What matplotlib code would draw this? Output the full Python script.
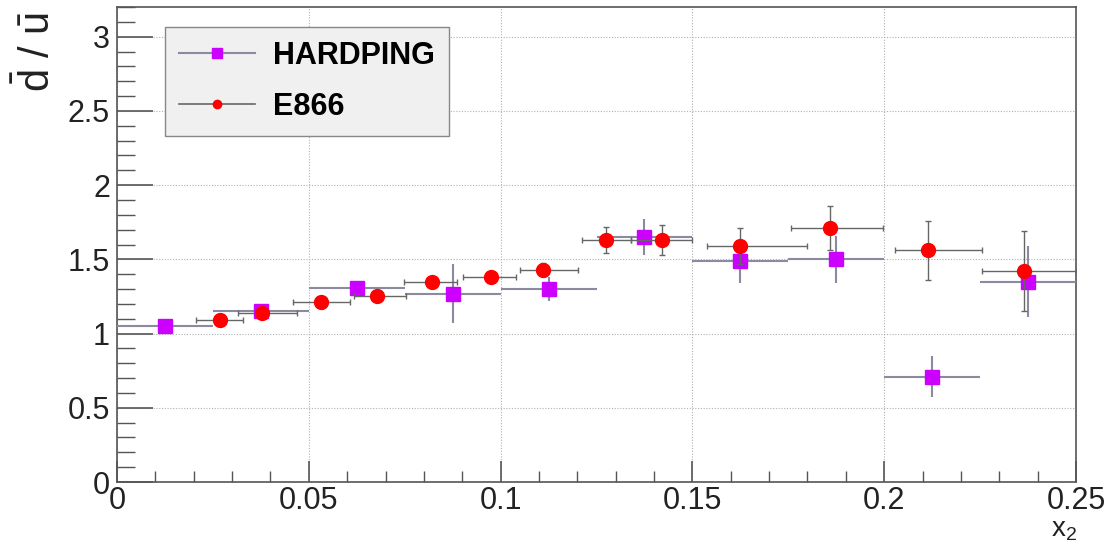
import numpy as np
import matplotlib
matplotlib.use("Agg")
import matplotlib.pyplot as plt
from matplotlib.ticker import MultipleLocator
from matplotlib.lines import Line2D

plt.rcParams['font.family'] = ['Liberation Sans', 'DejaVu Sans']
plt.rcParams['mathtext.fontset'] = 'custom'
plt.rcParams['mathtext.rm'] = 'Liberation Sans'
plt.rcParams['mathtext.it'] = 'Liberation Sans'

# HARDPING (bin centres, half-width 0.0125)
hp_x = [0.0125, 0.0375, 0.0625, 0.0875, 0.1125, 0.1375, 0.1625, 0.1875, 0.2125, 0.2375]
hp_y = [1.05, 1.15, 1.31, 1.27, 1.30, 1.65, 1.49, 1.50, 0.71, 1.35]
hp_yerr = [0.02, 0.03, 0.04, 0.20, 0.08, 0.12, 0.15, 0.16, 0.14, 0.24]
hp_xerr = [0.0125] * 10

# E866
e_x = [0.0269, 0.0379, 0.0531, 0.0677, 0.0820, 0.0975, 0.1111, 0.1275, 0.1420, 0.1624, 0.1858, 0.2115, 0.2365]
e_y = [1.09, 1.14, 1.21, 1.25, 1.35, 1.38, 1.43, 1.63, 1.63, 1.59, 1.71, 1.56, 1.42]
e_yerr = [0.04, 0.03, 0.03, 0.03, 0.03, 0.03, 0.045, 0.09, 0.10, 0.12, 0.15, 0.20, 0.27]
e_xlo = [0.0206, 0.0315, 0.0458, 0.0618, 0.0747, 0.0901, 0.1050, 0.1213, 0.1340, 0.1537, 0.1758, 0.2028, 0.2254]
e_xhi = [0.0328, 0.0468, 0.0607, 0.0753, 0.0886, 0.1040, 0.1202, 0.1340, 0.1498, 0.1798, 0.1996, 0.2254, 0.2500]

e_xerr = [np.array(e_x) - np.array(e_xlo), np.array(e_xhi) - np.array(e_x)]

fig = plt.figure(figsize=(11.07, 5.42), dpi=100)
ax = fig.add_axes([0.1057, 0.1107, 0.8663, 0.8763])

ax.grid(True, which='major', color='#b0b0b0', linestyle=(0, (1, 1.5)), linewidth=0.8)
ax.set_axisbelow(True)

ax.errorbar(hp_x, hp_y, xerr=hp_xerr, yerr=hp_yerr, fmt='s', color='#cc00ff', ms=10,
            ecolor='#8a8aa0', elinewidth=1.5, capsize=0, zorder=3)
ax.errorbar(e_x, e_y, xerr=e_xerr, yerr=e_yerr, fmt='o', color='#ff0000', ms=10,
            ecolor='#666666', elinewidth=1.0, capsize=2, zorder=4)

ax.set_xlim(0, 0.25)
ax.set_ylim(0, 3.2)
ax.xaxis.set_minor_locator(MultipleLocator(0.01))
ax.yaxis.set_minor_locator(MultipleLocator(0.1))
ax.set_xticks([0, 0.05, 0.1, 0.15, 0.2, 0.25])
ax.set_xticklabels(['0', '0.05', '0.1', '0.15', '0.2', '0.25'])
ax.set_yticks([0, 0.5, 1, 1.5, 2, 2.5, 3])
ax.set_yticklabels(['0', '0.5', '1', '1.5', '2', '2.5', '3'])

ax.tick_params(which='both', direction='in', labelsize=22, colors='#555555', labelcolor='#222222')
ax.tick_params(axis='y', which='major', length=26, width=1.2, pad=5)
ax.tick_params(axis='y', which='minor', length=13, width=1.0)
ax.tick_params(axis='x', which='major', length=15, width=1.2, pad=3)
ax.tick_params(axis='x', which='minor', length=8, width=1.0)
for s in ax.spines.values():
    s.set_color('#555555')
    s.set_linewidth(1.2)

fig.text(0.034, 0.905, r'$\bar{\mathrm{d}}$ / $\bar{\mathrm{u}}$', rotation=90,
         fontsize=30, ha='center', va='center', color='#222222')
fig.text(0.973, 0.022, r'x$_2$', fontsize=20, ha='right', va='center', color='#222222')

handles = [
    Line2D([], [], color='#8a8aa0', lw=1.5, marker='s', ms=7, mfc='#cc00ff', mec='#cc00ff'),
    Line2D([], [], color='#666666', lw=1.2, marker='o', ms=6, mfc='#ff0000', mec='#ff0000'),
]
leg = ax.legend(handles, ['HARDPING', 'E866'], loc='upper left', bbox_to_anchor=(0.050, 0.958),
                prop={'weight': 'bold', 'size': 22},
                frameon=True, fancybox=False, borderpad=0.45, labelspacing=0.7,
                handlelength=2.5, handletextpad=0.6, borderaxespad=0)
leg.get_frame().set_facecolor('#f0f0f0')
leg.get_frame().set_edgecolor('#888888')
leg.get_frame().set_alpha(1)

fig.canvas.draw()
bb = leg.get_window_extent()
w_target = (473 - 165) / 1107 * fig.bbox.width
# widen the frame to the right like the reference box
leg.get_frame().set_width(max(bb.width, w_target))

fig.savefig('out.png', dpi=100)
